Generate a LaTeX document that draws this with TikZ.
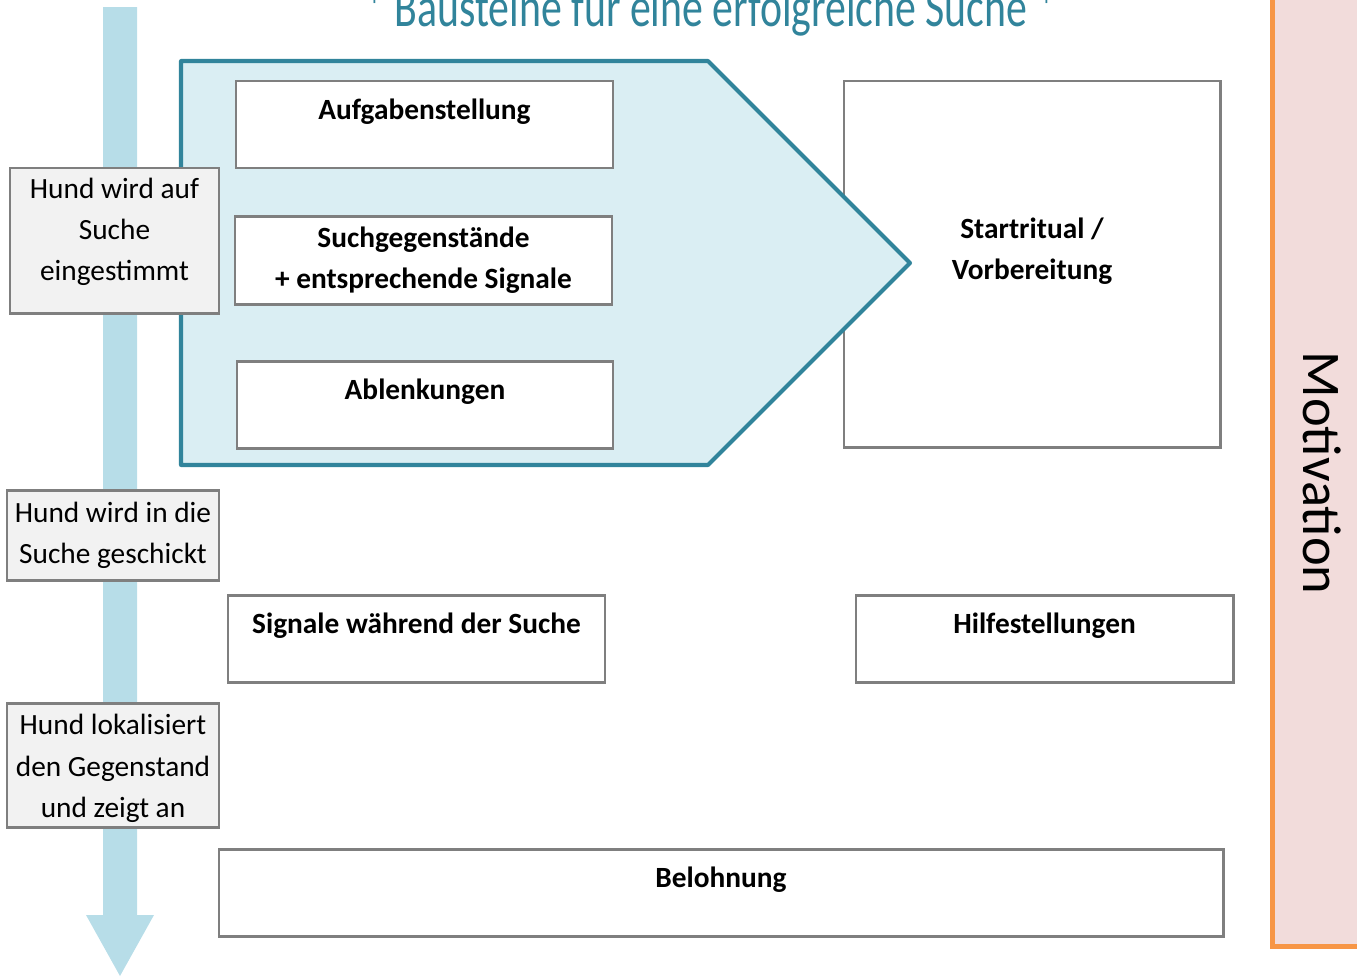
\documentclass[tikz,border=0pt]{standalone}
\usepackage{fontspec}
\setmainfont{Carlito}

\definecolor{flowblue}{HTML}{B7DDE8}
\definecolor{boxgray}{HTML}{7F7F7F}
\definecolor{stagefill}{HTML}{F2F2F2}
\definecolor{blockfill}{HTML}{DAEEF3}
\definecolor{blockedge}{HTML}{31849B}
\definecolor{motifill}{HTML}{F2DCDB}
\definecolor{motiedge}{HTML}{F79646}

\tikzset{
  stepbox/.style={draw=boxgray,line width=1.7pt,fill=white},
  stagebox/.style={draw=boxgray,line width=1.7pt,fill=stagefill},
  steptext/.style={font=\fontsize{16.7}{23.5}\selectfont\bfseries,align=center,inner sep=0pt},
  stagetext/.style={font=\fontsize{16.7}{23.5}\selectfont,align=center,inner sep=0pt}
}

\begin{document}
\begin{tikzpicture}[x=0.02cm,y=-0.02cm]

\useasboundingbox (0,0) rectangle (1357,978);

% Ablauf-Pfeil
\fill[flowblue] (103,7) -- (137,7) -- (137,915) -- (154,915) -- (120,976)
  -- (86,915) -- (103,915) -- cycle;

% Motivation
\draw[motiedge,fill=motifill,line width=2.8pt] (1272.5,-3) rectangle (1365,946.5);
\node[rotate=-90,font=\fontsize{31}{34}\selectfont,inner sep=0pt] (motivation) at (1322,473) {Motivation};

% Titel
\node[anchor=base,text=blockedge,font=\fontsize{23.8}{26}\selectfont,inner sep=0pt] (titel) at (711,26)
  {\scalebox{1}[1.35]{* Bausteine für eine erfolgreiche Suche *}};

% Startritual
\draw[stepbox] (844,81) rectangle (1220,447);
\node[steptext] (start) at (1032,251) {Startritual /\\Vorbereitung};

% Block vor dem Start
\draw[blockedge,fill=blockfill,line width=2.3pt,line join=round]
  (181,61) -- (708,61) -- (910,263) -- (708,465) -- (181,465) -- cycle;

\draw[stepbox] (236,81) rectangle (613,168);
\node[steptext] (aufgabe) at (424.5,112) {Aufgabenstellung};

\draw[stepbox] (235,216) rectangle (612,304);
\node[steptext] (gegenstand) at (423.5,260.5) {Suchgegenstände\\+ entsprechende Signale};

\draw[stepbox] (237,361) rectangle (613,448);
\node[steptext] (ablenkung) at (425,392) {Ablenkungen};

% waehrend der Suche
\draw[stepbox] (228,595) rectangle (605,682);
\node[steptext] (signale) at (416.5,626) {Signale während der Suche};

\draw[stepbox] (856,595) rectangle (1233,682);
\node[steptext] (hilfe) at (1044.5,626) {Hilfestellungen};

\draw[stepbox] (219,849) rectangle (1223,936);
\node[steptext] (belohnung) at (721,880) {Belohnung};

% Phasen
\draw[stagebox] (10,168) rectangle (219,313);
\node[stagetext] (phase1) at (114.5,232) {Hund wird auf\\Suche\\eingestimmt};

\draw[stagebox] (7,490) rectangle (219,580);
\node[stagetext] (phase2) at (113,535) {Hund wird in die\\Suche geschickt};

\draw[stagebox] (7,703) rectangle (219,827);
\node[stagetext] (phase3) at (113,768.5) {Hund lokalisiert\\den Gegenstand\\und zeigt an};

\end{tikzpicture}
\end{document}
